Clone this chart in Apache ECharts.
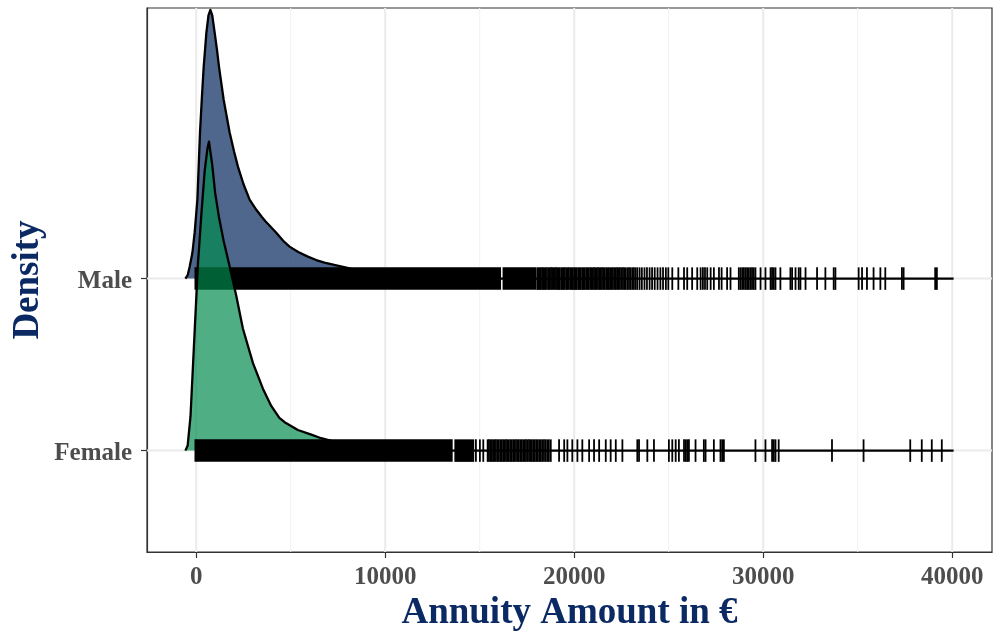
<!DOCTYPE html>
<html>
<head>
<meta charset="utf-8">
<script src="https://cdn.jsdelivr.net/npm/echarts@6/dist/echarts.min.js"></script>
<style>
  html, body { margin: 0; padding: 0; background: #ffffff; }
  #chart { width: 994px; height: 634px; }
</style>
</head>
<body>
<div id="chart"></div>
<script>
// Groups from bottom to top; each ridge sits on baseline = index + 1
const groups = ['Female', 'Male'];

// Axis ticks and grid positions (annuity amount)
const xTicks = [0, 10000, 20000, 30000, 40000];
const xMinorGrid = [5000, 15000, 25000, 35000];

// Scaled kernel density outlines: [amount, height above baseline]
const maleDensity = [
  [-571, 0], [-450, 0.02], [-343, 0.07], [-200, 0.15], [-79, 0.27], [63, 0.46],
  [201, 0.85], [300, 1.05], [396, 1.23], [539, 1.43], [650, 1.53], [750, 1.562],
  [850, 1.53], [977, 1.43], [1100, 1.33], [1205, 1.233], [1453, 1.04], [1770, 0.849],
  [2000, 0.74], [2208, 0.651], [2500, 0.55], [2826, 0.459], [3180, 0.40], [3476, 0.358],
  [3650, 0.335], [3950, 0.30], [4237, 0.267], [4600, 0.22], [4939, 0.186], [5400, 0.155],
  [5906, 0.128], [6350, 0.108], [6788, 0.093], [7300, 0.08], [8000, 0.062], [8700, 0.04],
  [9500, 0.02], [10500, 0.008], [12000, 0.002], [14000, 0], [40074, 0]
];
const femaleDensity = [
  [-571, 0], [-450, 0.03], [-300, 0.2], [-79, 0.70], [95, 1.09], [275, 1.376],
  [449, 1.626], [600, 1.76], [676, 1.796], [850, 1.66], [1000, 1.50], [1200, 1.36],
  [1450, 1.22], [1770, 1.07], [2120, 0.90], [2470, 0.71], [3000, 0.51], [3530, 0.36],
  [3970, 0.26], [4400, 0.19], [4680, 0.165], [5380, 0.12], [6090, 0.093], [6610, 0.072],
  [7200, 0.055], [8000, 0.035], [9000, 0.015], [10500, 0.004], [12000, 0], [40074, 0]
];

// Rug: solid runs where observations overlap completely, then single observations
const maleBands = [[-90, 16130], [16210, 17980]];
const maleTicks = [
  18040, 18100, 18170, 18230, 18300, 18360, 18430, 18490, 18560, 18640, 18700, 18770,
  18830, 18900, 18980, 19040, 19110, 19170, 19240, 19320, 19380, 19450, 19510, 19590,
  19650, 19720, 19800, 19860, 19930, 20000, 20070, 20130, 20210, 20280, 20340, 20420,
  20490, 20550, 20630, 20700, 20760, 20840, 20910, 20980, 21050, 21110, 21190, 21260,
  21330, 21400, 21470, 21540, 21610, 21690, 21760, 21830, 21900, 21980, 22050, 22130,
  22200, 22270, 22350, 22420, 22500, 22580, 22650, 22730, 22820, 22900, 22980, 23070,
  23160, 23250, 23340, 23460, 23580, 23720, 23850, 23990, 24120, 24260, 24410, 24560,
  24700, 24850, 24980, 25190, 25510, 25810, 25980, 26240, 26510, 26690, 26810, 26920,
  27040, 27220, 27390, 27660, 27800, 28090, 28270, 28710, 28800, 28890, 28980, 29070,
  29150, 29240, 29330, 29410, 29500, 29590, 29860, 30120, 30390, 30470, 30560, 30650,
  30910, 31440, 31530, 31710, 31880, 31970, 32240, 32850, 33290, 33730, 33820, 35050,
  35230, 35490, 35840, 36200, 36460, 37340, 37430, 39100, 39190
];
const femaleBands = [[-90, 13570], [13660, 14710]];
const femaleTicks = [
  14800, 15010, 15190, 15420, 15490, 15560, 15640, 15710, 15790, 15860, 15940, 16010,
  16090, 16160, 16240, 16310, 16390, 16460, 16540, 16620, 16690, 16770, 16840, 16920,
  17000, 17070, 17150, 17220, 17300, 17380, 17450, 17530, 17610, 17680, 17760, 17840,
  17910, 17990, 18070, 18150, 18230, 18310, 18400, 18480, 18570, 18660, 18760, 19200,
  19470, 19640, 19900, 20170, 20430, 20790, 21050, 21320, 21670, 21930, 22200, 22550,
  23340, 23430, 23870, 24220, 25010, 25190, 25370, 25540, 25810, 25900, 25980, 26070,
  26420, 26860, 26950, 27390, 27740, 27830, 27920, 29590, 30120, 30470, 30560, 30650,
  30820, 33640, 35310, 37780, 38390, 38920, 39450
];

const X_MIN = -2603, X_MAX = 42106;
const Y_MIN = 0.4105, Y_MAX = 3.5733;
const RUG_HALF = 0.0655;          // half height of a rug mark, in baseline units
const NAVY = '#0b2a63';
const LABEL_GREY = '#4d4d4d';
const FONT = '"Liberation Serif", "Times New Roman", serif';

const chart = echarts.init(document.getElementById('chart'), null, { renderer: 'canvas' });

function ridge(name, pts, base, fill, z) {
  return {
    type: 'custom', name, z, silent: true, animation: false,
    coordinateSystem: 'cartesian2d',
    data: [[pts[0][0], base]],
    renderItem(params, api) {
      const poly = pts.map(p => api.coord([p[0], base + p[1]]));
      return {
        type: 'group',
        children: [
          { type: 'polygon', shape: { points: poly }, style: { fill: fill, stroke: null } },
          { type: 'polyline', shape: { points: poly },
            style: { stroke: '#000', lineWidth: 2.3, fill: null, lineJoin: 'round' } }
        ]
      };
    }
  };
}

function rugBands(name, bands, base, z) {
  return {
    type: 'custom', name, z, silent: true, animation: false,
    coordinateSystem: 'cartesian2d',
    data: bands.map(b => [b[0], b[1], base]),
    renderItem(params, api) {
      const p0 = api.coord([api.value(0), api.value(2) + RUG_HALF]);
      const p1 = api.coord([api.value(1), api.value(2) - RUG_HALF]);
      return { type: 'rect', shape: { x: p0[0], y: p0[1], width: p1[0] - p0[0], height: p1[1] - p0[1] },
               style: { fill: '#000' } };
    }
  };
}

function rugTicks(name, ticks, base, z) {
  return {
    type: 'scatter', name, z, silent: true, animation: false,
    symbol: 'rect', symbolSize: [1.8, 22.5],
    itemStyle: { color: '#000', opacity: 1 },
    data: ticks.map(v => [v, base])
  };
}

const gridLines = {
  type: 'custom', z: 1, silent: true, animation: false,
  coordinateSystem: 'cartesian2d',
  data: [[0, 1]],
  renderItem(params, api) {
    const children = [];
    xMinorGrid.forEach(v => {
      const a = api.coord([v, Y_MIN]), b = api.coord([v, Y_MAX]);
      children.push({ type: 'line', shape: { x1: a[0], y1: a[1], x2: b[0], y2: b[1] },
                      style: { stroke: '#f2f2f2', lineWidth: 1 } });
    });
    xTicks.forEach(v => {
      const a = api.coord([v, Y_MIN]), b = api.coord([v, Y_MAX]);
      children.push({ type: 'line', shape: { x1: a[0], y1: a[1], x2: b[0], y2: b[1] },
                      style: { stroke: '#ebebeb', lineWidth: 2 } });
    });
    groups.forEach((g, i) => {
      const a = api.coord([X_MIN, i + 1]), b = api.coord([X_MAX, i + 1]);
      children.push({ type: 'line', shape: { x1: a[0], y1: a[1], x2: b[0], y2: b[1] },
                      style: { stroke: '#ebebeb', lineWidth: 2 } });
    });
    return { type: 'group', children };
  }
};

const maleBase = groups.indexOf('Male') + 1;
const femaleBase = groups.indexOf('Female') + 1;

chart.setOption({
  animation: false,
  backgroundColor: '#ffffff',
  grid: {
    left: 147, right: 2, top: 8, bottom: 82,
    show: true, borderColor: '#333333', borderWidth: 1.2,
    containLabel: false, outerBoundsMode: 'none'
  },
  xAxis: {
    type: 'value', min: X_MIN, max: X_MAX,
    axisLine: { show: true, onZero: false, lineStyle: { color: '#333333', width: 1.2 } },
    axisTick: { show: true, customValues: xTicks, length: 6, lineStyle: { color: '#333333', width: 1.2 } },
    axisLabel: {
      customValues: xTicks, margin: 13, formatter: v => String(v),
      color: LABEL_GREY, fontFamily: FONT, fontWeight: 'bold', fontSize: 25
    },
    splitLine: { show: false },
    name: 'Annuity Amount in €', nameLocation: 'middle', nameGap: 39,
    nameTextStyle: { color: NAVY, fontFamily: FONT, fontWeight: 'bold', fontSize: 37 }
  },
  yAxis: {
    type: 'value', min: Y_MIN, max: Y_MAX,
    axisLine: { show: true, onZero: false, lineStyle: { color: '#333333', width: 1.2 } },
    axisTick: { show: true, customValues: [1, 2], length: 6, lineStyle: { color: '#333333', width: 1.2 } },
    axisLabel: {
      customValues: [1, 2], margin: 15,
      formatter: v => '{g|' + groups[Math.round(v) - 1] + '}',
      rich: {
        g: { padding: [6, 0, 0, 0], color: LABEL_GREY, fontFamily: FONT, fontWeight: 'bold', fontSize: 25 }
      },
      color: LABEL_GREY, fontFamily: FONT, fontWeight: 'bold', fontSize: 25
    },
    splitLine: { show: false },
    name: 'Density', nameLocation: 'middle', nameGap: 100, nameMoveOverlap: false,
    nameTextStyle: { color: NAVY, fontFamily: FONT, fontWeight: 'bold', fontSize: 37 }
  },
  series: [
    gridLines,
    ridge('Male', maleDensity, maleBase, 'rgba(0,35,88,0.69)', 2),
    rugBands('Male rug', maleBands, maleBase, 3),
    rugTicks('Male rug ticks', maleTicks, maleBase, 3),
    ridge('Female', femaleDensity, femaleBase, 'rgba(0,138,77,0.69)', 4),
    rugBands('Female rug', femaleBands, femaleBase, 5),
    rugTicks('Female rug ticks', femaleTicks, femaleBase, 5)
  ]
});
</script>
</body>
</html>
